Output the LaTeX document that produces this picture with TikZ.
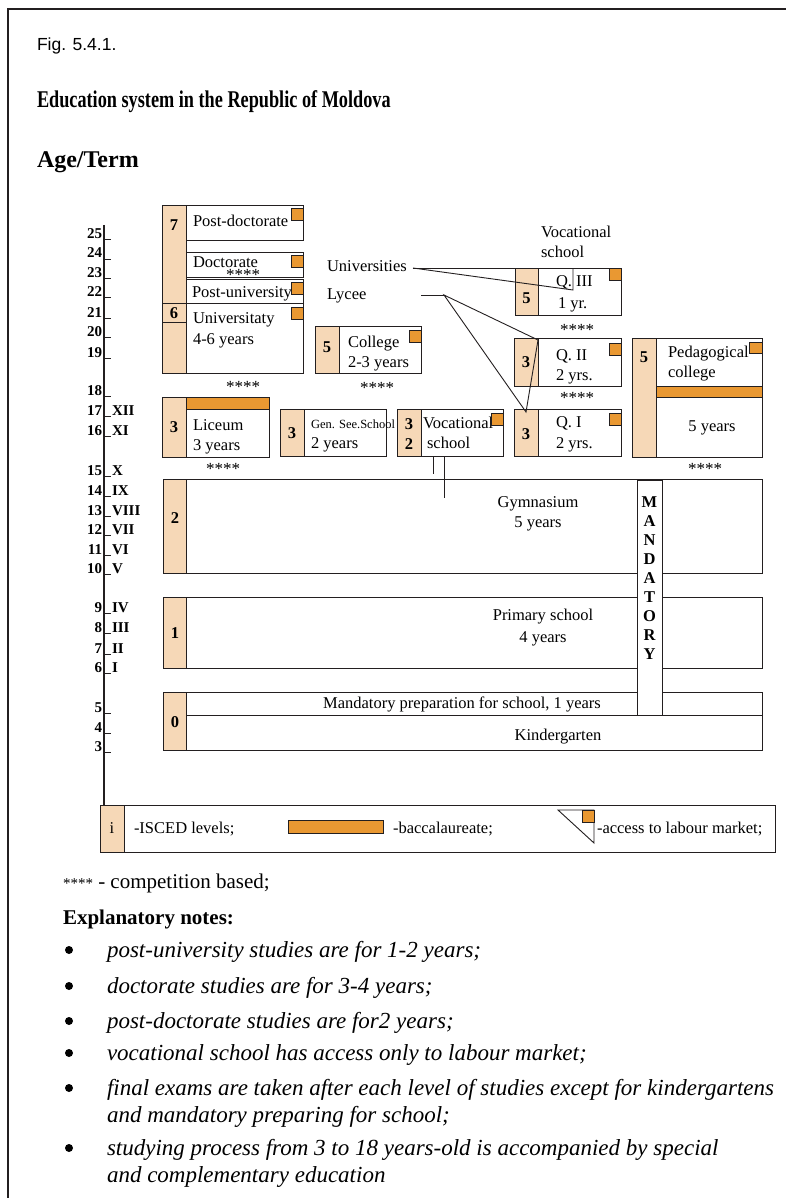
\documentclass[tikz,border=0pt]{standalone}
\usepackage{fontspec}
\setmainfont{Liberation Serif}
\newfontfamily\figfont{Liberation Sans}
\newfontfamily\condserif{Liberation Serif}[FakeStretch=0.76]
\usepackage{xcolor}
\usetikzlibrary{positioning}

\definecolor{ink}{HTML}{231F20}
\definecolor{peach}{HTML}{F6D8B7}
\definecolor{bacorange}{HTML}{E99832}
\newcommand{\setpx}[1]{\fontsize{#1}{#1}\selectfont}

\begin{document}
\begin{tikzpicture}[
  x=1pt, y=-1pt,
  every node/.style={inner sep=0pt, outer sep=0pt},
  box/.style={draw=ink, line width=0.9pt, fill=white, anchor=north west},
  lvl/.style={box, fill=peach},
  bac/.style={box, fill=bacorange},
  lm/.style={box, fill=bacorange, minimum width=12pt, minimum height=12pt, anchor=north east},
  lbl/.style={font=\setpx{16.5}, anchor=base west},
  mid/.style={font=\setpx{16.5}, anchor=base},
  num/.style={font=\bfseries\setpx{16.5}},
  stars/.style={font=\setpx{17}, yshift=-3pt},
  age/.style={font=\bfseries\setpx{15}, anchor=base east},
  grade/.style={font=\bfseries\setpx{15}, anchor=base west},
  note/.style={font=\itshape\setpx{23}, anchor=base west},
  dot/.style={circle, fill=black, minimum size=8pt},
]
\useasboundingbox (0,0) rectangle (786,1198);
\draw[ink, line width=1.2pt] (786,9) -- (8,9) -- (8,1198);

% headings
\node[anchor=base west, font=\figfont\setpx{17.5}] (fig) at (37,51) {Fig. 5.4.1.};
\node[anchor=base west, font=\condserif\bfseries\setpx{24}] (title) at (37,108) {Education system in the Republic of Moldova};
\node[anchor=base west, font=\bfseries\setpx{24}] (ageterm) at (37,168) {Age/Term};

% age axis
\draw[ink, line width=1.3pt] (104,225) -- (104,805);
\foreach \a/\yy in {25/238,24/258,23/277,22/296,21/317,20/336,19/357,18/395,17/415,16/435,15/475,14/495,13/515,12/534,11/554,10/573,9/612,8/632,7/653,6/672,5/712,4/732,3/751} {
  \node[age] (a\a) at (102,\yy) {\a};
  \draw[ink, line width=0.8pt] (104,\yy+1) -- (111,\yy+1);
}
\foreach \a/\g in {17/XII,16/XI,15/X,14/IX,13/VIII,12/VII,11/VI,10/V,9/IV,8/III,7/II,6/I}
  \node[grade] (g\a) at ([xshift=10pt]a\a.base east) {\g};

% ISCED 6-7
\node[lvl, minimum width=24pt, minimum height=168pt] (l7) at (162,205) {};
\draw[ink, line width=0.9pt] (162,303) -- (186,303) (162,322) -- (186,322);
\node[num] (n7) at (174,225) {7};
\node[num] (n6) at (174,313) {6};
\node[box, minimum width=117pt, minimum height=35pt] (pdoc) at (186,205) {};
\node[box, minimum width=117pt, minimum height=25pt] (doc) at (186,252) {};
\node[box, minimum width=117pt, minimum height=24pt] (puni) at (186,279) {};
\node[box, minimum width=117pt, minimum height=70pt] (univ) at (186,303) {};
\node[lm] (pdocm) at (303,208) {};
\node[lm] (docm) at (303,255) {};
\node[lm] (punim) at (303,282) {};
\node[lm] (univm) at (303,307) {};
\node[lbl] (pdoct) at (193,226) {Post-doctorate};
\node[lbl] (doct) at (193,267) {Doctorate};
\node[stars] (s1) at (243,272) {****};
\node[lbl] (punit) at (192,297) {Post-university};
\node[lbl] (univt) at (193,323) {Universitaty};
\node[lbl] (univy) at (193,344) {4-6 years};
\node[stars] (s2) at (243,384) {****};

% college
\node[lvl, minimum width=24pt, minimum height=47pt] (l5c) at (315,326) {};
\node[box, minimum width=82pt, minimum height=47pt] (coll) at (339,326) {};
\node[lm] (collm) at (421,330) {};
\node[num] (n5c) at (327,347) {5};
\node[lbl] (collt) at (348,347) {College};
\node[lbl] (colly) at (348,367) {2-3 years};
\node[stars] (s3) at (377,385) {****};

\node[lbl] (unis) at (327,271) {Universities};
\node[lbl] (lyc) at (327,299) {Lycee};
\node[lbl] (vst) at (541,237) {Vocational};
\node[lbl] (vss) at (541,258) {school};

% qualification levels
\node[lvl, minimum width=23pt, minimum height=47pt] (l5q) at (515,268) {};
\node[box, minimum width=83pt, minimum height=47pt] (q3) at (538,268) {};
\node[lm] (q3m) at (621,268) {};
\node[num] (n5q) at (526.5,298) {5};
\node[lbl] (q3t) at (556,286) {Q. III};
\node[lbl] (q3y) at (558,308) {1 yr.};
\node[stars] (s4) at (577,327) {****};

\node[lvl, minimum width=24pt, minimum height=48pt] (l3q2) at (514,338) {};
\node[box, minimum width=83pt, minimum height=48pt] (q2) at (538,338) {};
\node[lm] (q2m) at (621,343) {};
\node[num] (n3q2) at (526,362) {3};
\node[lbl] (q2t) at (556,360) {Q. II};
\node[lbl] (q2y) at (556,380) {2 yrs.};
\node[stars] (s5) at (577,395) {****};

\node[lvl, minimum width=24pt, minimum height=47pt] (l3q1) at (514,409) {};
\node[box, minimum width=83pt, minimum height=47pt] (q1) at (538,409) {};
\node[lm] (q1m) at (621,413) {};
\node[num] (n3q1) at (526,434) {3};
\node[lbl] (q1t) at (556,427) {Q. I};
\node[lbl] (q1y) at (556,448) {2 yrs.};

% connectors
\coordinate (ujoin) at (413,268);
\coordinate (utip) at (573,290);
\draw[ink, line width=0.9pt] (ujoin) -- (l5q.north west);
\draw[ink, line width=0.9pt] (ujoin) -- (utip) -- (utip |- q3.north);
\coordinate (lstart) at (421,295);
\coordinate (ljoin) at (444,295);
\coordinate (q2tip) at (538,340);
\coordinate (q1tip) at (526,412);
\draw[ink, line width=0.9pt] (lstart) -- (ljoin);
\draw[ink, line width=0.9pt] (ljoin) -- (q2tip) -- (q1tip) -- cycle;

% upper secondary
\node[lvl, minimum width=24pt, minimum height=47pt] (l32) at (397,409) {};
\node[box, minimum width=82pt, minimum height=47pt] (voc) at (421,409) {};
\node[num] (n3v) at (409,424) {3};
\node[num] (n2v) at (409,444) {2};
\node[lbl] (voct) at (423,428) {Vocational};
\node[lbl] (vocs) at (427,448) {school};
\node[lm] (vocm) at (503,413) {};

\node[lvl, minimum width=24pt, minimum height=47pt] (l3g) at (280,409) {};
\node[box, minimum width=82pt, minimum height=47pt] (gen) at (304,409) {};
\node[num] (n3g) at (292,433) {3};
\node[lbl, font=\setpx{12.5}] (gent) at (311,428) {Gen. See.School};
\node[lbl] (geny) at (311,448) {2 years};

\node[lvl, minimum width=24pt, minimum height=60pt] (l3l) at (162,397) {};
\node[box, minimum width=83pt, minimum height=60pt] (lic) at (186,397) {};
\node[bac, minimum width=83pt, minimum height=12pt] (licb) at (186,397) {};
\node[num] (n3l) at (174,427) {3};
\node[lbl] (lict) at (193,430) {Liceum};
\node[lbl] (licy) at (193,450) {3 years};
\node[stars] (s6) at (223,466) {****};

\node[lvl, minimum width=24pt, minimum height=119pt] (l5p) at (632,338) {};
\node[box, minimum width=106pt, minimum height=119pt] (ped) at (656,338) {};
\node[bac, minimum width=106pt, minimum height=11pt] (pedb) at (656,386) {};
\node[lm, minimum width=13pt, minimum height=11pt] (pedm) at (762,342) {};
\node[num] (n5p) at (644,357) {5};
\node[lbl] (pedt) at (668,357) {Pedagogical};
\node[lbl] (pedc) at (668,377) {college};
\node[mid] (pedy) at (712,431) {5 years};
\node[stars] (s7) at (705,466) {****};

% compulsory and pre-school
\node[lvl, minimum width=23pt, minimum height=94pt] (l2) at (163,479) {};
\node[box, minimum width=576pt, minimum height=94pt] (gym) at (186,479) {};
\node[num] (n2) at (175,518) {2};
\node[mid] (gymt) at (538,507) {Gymnasium};
\node[mid] (gymy) at (538,527) {5 years};

\node[lvl, minimum width=23pt, minimum height=71pt] (l1) at (163,597) {};
\node[box, minimum width=576pt, minimum height=71pt] (prim) at (186,597) {};
\node[num] (n1) at (175,633) {1};
\node[mid] (primt) at (543,620) {Primary school};
\node[mid] (primy) at (543,642) {4 years};

\node[lvl, minimum width=23pt, minimum height=58pt] (l0) at (163,692) {};
\node[box, minimum width=576pt, minimum height=23pt] (prep) at (186,692) {};
\node[box, minimum width=576pt, minimum height=35pt] (kind) at (186,715) {};
\node[num] (n0) at (175,722) {0};
\node[mid] (prept) at (462,708) {Mandatory preparation for school, 1 years};
\node[mid] (kindt) at (558,740) {Kindergarten};

\draw[ink, line width=0.9pt] ([xshift=12pt]voc.south west) -- ++(0,18);
\draw[ink, line width=0.9pt] ([xshift=23pt]voc.south west) -- ++(0,42);

\node[box, minimum width=25pt, minimum height=235pt] (mand) at (637,480) {};
\node[align=center, font=\bfseries\fontsize{16.5}{18.9}\selectfont] (mandt) at (649.5,578) {M\\A\\N\\D\\A\\T\\O\\R\\Y};

% legend
\node[lvl, minimum width=24pt, minimum height=47pt] (li) at (100,805) {};
\node[box, minimum width=651pt, minimum height=47pt] (leg) at (124,805) {};
\node[font=\setpx{16.5}] (lit) at (112,828) {i};
\node[lbl] (legi) at (134,833) {-ISCED levels;};
\node[bac, minimum width=95pt, minimum height=13pt] (legb) at (288,820) {};
\node[lbl] (legbt) at (393,833) {-baccalaureate;};
\coordinate (ta) at (558,810);
\coordinate (tb) at (594,810);
\coordinate (tc) at (594,843);
\draw[ink, line width=0.9pt] (ta) -- (tb) -- (tc) -- cycle;
\node[lm] (legm) at (594,810) {};
\node[lbl] (legmt) at (597,833) {-access to labour market;};

% notes
\node[anchor=base west, font=\setpx{21}] (comp) at (63,888) {{\setpx{15}****} - competition based;};
\node[anchor=base west, font=\bfseries\setpx{21}] (expl) at (63,924) {Explanatory notes:};
\node[dot] (b1) at (69,950) {};
\node[note] (t1) at (107,957) {post-university studies are for 1-2 years;};
\node[dot] (b2) at (69,986) {};
\node[note] (t2) at (107,993) {doctorate studies are for 3-4 years;};
\node[dot] (b3) at (69,1021) {};
\node[note] (t3) at (107,1028) {post-doctorate studies are for2 years;};
\node[dot] (b4) at (69,1053) {};
\node[note] (t4) at (107,1060) {vocational school has access only to labour market;};
\node[dot] (b5) at (69,1088) {};
\node[note] (t5) at (107,1095) {final exams are taken after each level of studies except for kindergartens};
\node[note] (t5b) at (107,1122) {and mandatory preparing for school;};
\node[dot] (b6) at (69,1148) {};
\node[note] (t6) at (107,1155) {studying process from 3 to 18 years-old is accompanied by special};
\node[note] (t6b) at (107,1182) {and complementary education};
\end{tikzpicture}
\end{document}
